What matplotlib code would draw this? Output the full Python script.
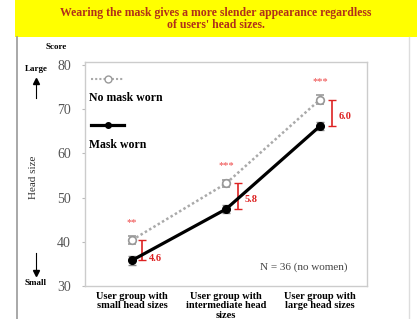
import matplotlib.pyplot as plt
from matplotlib.patches import Rectangle
from matplotlib.lines import Line2D

plt.rcParams['font.family'] = ['Liberation Serif', 'DejaVu Serif']

groups = ["User group with\nsmall head sizes",
          "User group with\nintermediate head\nsizes",
          "User group with\nlarge head sizes"]
no_mask = [40.4, 53.2, 72.2]
no_mask_err = [1.0, 0.9, 1.0]
mask = [35.8, 47.4, 66.2]
mask_err = [1.1, 0.9, 0.9]
diff_labels = ["4.6", "5.8", "6.0"]
stars = ["**", "***", "***"]
yticks = [30, 40, 50, 60, 70, 80]

fig = plt.figure(figsize=(4.17, 3.19), dpi=100)
W, H = 417, 319

def fx(px):
    return px / W

def fy(py):
    return 1 - py / H

# yellow banner and outer panel
fig.patches.append(Rectangle((fx(15), fy(37)), fx(402), 37 / H, transform=fig.transFigure,
                             facecolor='#ffff00', edgecolor='none', zorder=0))
fig.add_artist(Line2D([fx(17), fx(17)], [0, fy(37)], color='#999999', lw=1.2))
fig.add_artist(Line2D([fx(409), fx(409)], [0, fy(37)], color='#dddddd', lw=1.0))
fig.text(fx(216), fy(19), "Wearing the mask gives a more slender appearance regardless\nof users' head sizes.",
         ha='center', va='center', fontsize=8.5, fontweight='bold', color='#b0301a', linespacing=1.1)

ax = fig.add_axes([fx(85), fy(286), fx(282), (286 - 62) / H])
x = list(range(len(groups)))

ax.errorbar(x, no_mask, yerr=no_mask_err, color='#aaaaaa', ls=(0, (1, 1)), lw=1.8,
            marker='o', ms=5.5, mfc='white', mec='#999999', mew=1.2, capsize=3, ecolor='#999999', zorder=3)
ax.errorbar(x, mask, yerr=mask_err, color='black', ls='-', lw=2.3,
            marker='o', ms=5.5, mfc='black', mec='black', capsize=3, ecolor='#888888', zorder=4)

for i in x:
    off = 0.11 if i == 0 else 0.13
    mid = (no_mask[i] + mask[i]) / 2
    half = (no_mask[i] - mask[i]) / 2
    ax.errorbar(i + off, mid, yerr=half, color='#dd2222', capsize=3, lw=1.2, fmt='none', zorder=2)
    ax.text(i + off + 0.07, mid - half * 0.25 if i > 0 else mask[i] + 0.5, diff_labels[i],
            color='#dd2222', fontsize=7.5, fontweight='bold', va='center', ha='left')
    ax.text(i, no_mask[i] + 4, stars[i], color='#ee4444', fontsize=7.5, ha='center', va='center')

ax.set_xlim(-0.5, 2.5)
ax.set_ylim(30, 80.7)
ax.set_yticks(yticks)
ax.set_yticklabels([str(t) for t in yticks], fontsize=10, color='#555555')
ax.tick_params(axis='y', length=2, color='#bbbbbb', pad=8)
ax.set_xticks(x)
ax.set_xticklabels(groups, fontsize=7.5, fontweight='bold', linespacing=1.1)
ax.tick_params(axis='x', length=0, pad=4)
for s in ax.spines.values():
    s.set_color('#cccccc')
    s.set_linewidth(1.0)

# legend drawn inside the axes
ax.plot([0.02, 0.14], [0.925, 0.925], transform=ax.transAxes, color='#aaaaaa', ls=(0, (1, 1)), lw=1.5)
ax.plot([0.08], [0.925], transform=ax.transAxes, marker='o', ms=5, mfc='white', mec='#999999')
ax.text(0.015, 0.84, "No mask worn", transform=ax.transAxes, fontsize=8.5, fontweight='bold', va='center')
ax.plot([0.02, 0.14], [0.72, 0.72], transform=ax.transAxes, color='black', lw=2.3)
ax.plot([0.08], [0.72], transform=ax.transAxes, marker='o', ms=4, color='black')
ax.text(0.015, 0.63, "Mask worn", transform=ax.transAxes, fontsize=8.5, fontweight='bold', va='center')
ax.text(0.93, 0.085, "N = 36 (no women)", transform=ax.transAxes, fontsize=8, color='#444444',
        ha='right', va='center')

# left side annotations
fig.text(fx(56), fy(47), "Score", fontsize=6.5, fontweight='bold', ha='center', va='center')
fig.text(fx(36), fy(69), "Large", fontsize=6.5, fontweight='bold', ha='center', va='center')
fig.text(fx(36), fy(283), "Small", fontsize=6.5, fontweight='bold', ha='center', va='center')
fig.text(fx(33), fy(177), "Head size", fontsize=8, rotation=90, ha='center', va='center', color='#333333')
fig.add_artist(Line2D([fx(36), fx(36)], [fy(98), fy(80)], color='black', lw=0.8))
fig.add_artist(Line2D([fx(36)], [fy(81)], marker='^', ms=4, color='black'))
fig.add_artist(Line2D([fx(36), fx(36)], [fy(253), fy(274)], color='black', lw=0.8))
fig.add_artist(Line2D([fx(36)], [fy(273)], marker='v', ms=4, color='black'))

fig.savefig("out.png", dpi=100)
